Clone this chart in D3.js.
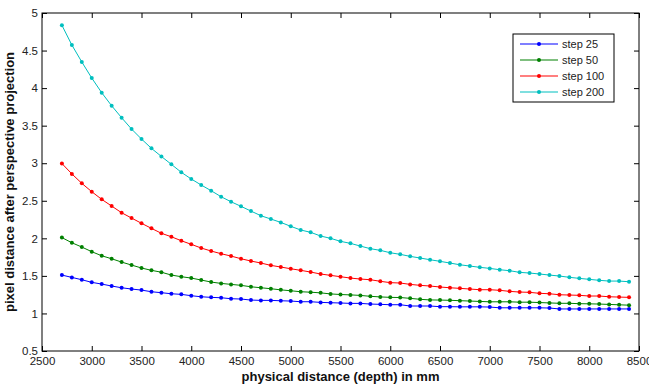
<!DOCTYPE html>
<html>
<head>
<meta charset="utf-8">
<script src="https://cdn.jsdelivr.net/npm/d3@7"></script>
<style>
  body { margin: 0; background: #fff; }
  svg { display: block; font-family: Arial, "Liberation Sans", sans-serif; }
</style>
</head>
<body>
<svg id="chart"></svg>
<script>
// depth in mm, one point every 100 mm
const depths = d3.range(2700, 8401, 100);

const step25 = [1.511, 1.480, 1.449, 1.414, 1.391, 1.365, 1.342, 1.325, 1.311, 1.289,
  1.276, 1.262, 1.254, 1.236, 1.222, 1.214, 1.209, 1.196, 1.192, 1.178,
  1.174, 1.174, 1.169, 1.165, 1.156, 1.156, 1.147, 1.143, 1.139, 1.134,
  1.134, 1.125, 1.121, 1.116, 1.116, 1.099, 1.099, 1.099, 1.090, 1.090,
  1.088, 1.088, 1.088, 1.085, 1.075, 1.075, 1.075, 1.075, 1.075, 1.072,
  1.060, 1.060, 1.060, 1.060, 1.060, 1.060, 1.060, 1.060];

const step50 = [2.010, 1.941, 1.884, 1.822, 1.768, 1.728, 1.684, 1.644, 1.605, 1.574,
  1.549, 1.511, 1.489, 1.471, 1.445, 1.418, 1.400, 1.387, 1.374, 1.355,
  1.342, 1.329, 1.314, 1.302, 1.289, 1.283, 1.274, 1.260, 1.252, 1.247,
  1.240, 1.228, 1.220, 1.214, 1.212, 1.201, 1.188, 1.180, 1.178, 1.175,
  1.170, 1.165, 1.160, 1.155, 1.155, 1.155, 1.150, 1.150, 1.145, 1.140,
  1.135, 1.135, 1.130, 1.128, 1.125, 1.120, 1.115, 1.110];

const step100 = [2.996, 2.858, 2.732, 2.621, 2.519, 2.430, 2.341, 2.270, 2.200, 2.133,
  2.067, 2.021, 1.968, 1.920, 1.871, 1.831, 1.795, 1.764, 1.728, 1.698,
  1.671, 1.640, 1.618, 1.595, 1.574, 1.551, 1.525, 1.507, 1.489, 1.471,
  1.458, 1.449, 1.428, 1.410, 1.405, 1.387, 1.374, 1.365, 1.352, 1.342,
  1.334, 1.325, 1.316, 1.316, 1.308, 1.294, 1.285, 1.281, 1.268, 1.262,
  1.249, 1.245, 1.241, 1.232, 1.232, 1.222, 1.218, 1.214];

const step200 = [4.837, 4.574, 4.348, 4.134, 3.939, 3.765, 3.606, 3.455, 3.322, 3.198,
  3.090, 2.985, 2.879, 2.790, 2.710, 2.634, 2.554, 2.487, 2.426, 2.363,
  2.301, 2.257, 2.212, 2.160, 2.111, 2.080, 2.031, 2.000, 1.960, 1.933,
  1.897, 1.862, 1.840, 1.808, 1.787, 1.760, 1.738, 1.715, 1.694, 1.671,
  1.648, 1.631, 1.614, 1.600, 1.582, 1.569, 1.547, 1.538, 1.525, 1.511,
  1.498, 1.481, 1.467, 1.454, 1.441, 1.431, 1.431, 1.422];

const seriesNames = ["step 25", "step 50", "step 100", "step 200"];
const seriesValues = [step25, step50, step100, step200];
const colors = ["#0000ff", "#008000", "#ff0000", "#00bfbf"];

const xTicks = d3.range(2500, 8501, 500);
const yTicks = d3.range(0.5, 5.01, 0.5);

const width = 649, height = 385;
const margin = {top: 13, right: 10, bottom: 34, left: 42};

const x = d3.scaleLinear()
    .domain([2500, 8500])
    .range([margin.left, width - margin.right]);

const y = d3.scaleLinear()
    .domain([0.5, 5])
    .range([height - margin.bottom, margin.top]);

const svg = d3.select("#chart")
    .attr("width", width)
    .attr("height", height);

// plot box
svg.append("rect")
    .attr("x", x(2500)).attr("y", y(5))
    .attr("width", x(8500) - x(2500)).attr("height", y(0.5) - y(5))
    .attr("fill", "#fff").attr("stroke", "#000").attr("stroke-width", 1);

const tickFmt = d => (Number.isInteger(d) ? d3.format("d")(d) : d3.format(".1f")(d));

// ticks point inward, on all four sides
svg.append("g")
    .attr("transform", `translate(0,${y(0.5)})`)
    .call(d3.axisBottom(x).tickValues(xTicks).tickSize(-5).tickPadding(6).tickFormat(d3.format("d")))
    .call(g => g.select(".domain").remove());
svg.append("g")
    .attr("transform", `translate(0,${y(5)})`)
    .call(d3.axisTop(x).tickValues(xTicks).tickSize(-5).tickFormat(""))
    .call(g => g.select(".domain").remove());
svg.append("g")
    .attr("transform", `translate(${x(2500)},0)`)
    .call(d3.axisLeft(y).tickValues(yTicks).tickSize(-5).tickPadding(4).tickFormat(tickFmt))
    .call(g => g.select(".domain").remove());
svg.append("g")
    .attr("transform", `translate(${x(8500)},0)`)
    .call(d3.axisRight(y).tickValues(yTicks).tickSize(-5).tickFormat(""))
    .call(g => g.select(".domain").remove());

svg.selectAll(".tick text")
    .attr("font-size", 11.5)
    .attr("fill", "#222");
svg.selectAll(".tick line").attr("stroke", "#000");

const line = d3.line()
    .x((d, i) => x(depths[i]))
    .y(d => y(d));

seriesValues.forEach((vals, i) => {
    const g = svg.append("g");
    g.append("path")
        .datum(vals)
        .attr("fill", "none")
        .attr("stroke", colors[i])
        .attr("stroke-width", 1)
        .attr("d", line);
    g.selectAll("circle")
        .data(vals)
        .join("circle")
        .attr("cx", (d, j) => x(depths[j]))
        .attr("cy", d => y(d))
        .attr("r", 2)
        .attr("fill", colors[i]);
});

// axis titles
svg.append("text")
    .attr("x", (x(2500) + x(8500)) / 2)
    .attr("y", 381)
    .attr("text-anchor", "middle")
    .attr("font-size", 13)
    .attr("font-weight", "bold")
    .attr("fill", "#111")
    .text("physical distance (depth) in mm");

svg.append("text")
    .attr("transform", `translate(14,${(y(0.5) + y(5)) / 2}) rotate(-90)`)
    .attr("text-anchor", "middle")
    .attr("font-size", 13)
    .attr("font-weight", "bold")
    .attr("fill", "#111")
    .text("pixel distance after perspective projection");

// legend
const legend = svg.append("g").attr("transform", "translate(513,34)");
legend.append("rect")
    .attr("width", 101).attr("height", 68)
    .attr("fill", "#fff").attr("stroke", "#000").attr("stroke-width", 1);
seriesNames.forEach((name, i) => {
    const ly = 10 + i * 16;
    legend.append("line")
        .attr("x1", 7).attr("x2", 45)
        .attr("y1", ly).attr("y2", ly)
        .attr("stroke", colors[i]).attr("stroke-width", 1.2);
    legend.append("circle")
        .attr("cx", 26).attr("cy", ly).attr("r", 2)
        .attr("fill", colors[i]);
    legend.append("text")
        .attr("x", 49).attr("y", ly + 4)
        .attr("font-size", 11)
        .attr("fill", "#222")
        .text(name);
});
</script>
</body>
</html>
